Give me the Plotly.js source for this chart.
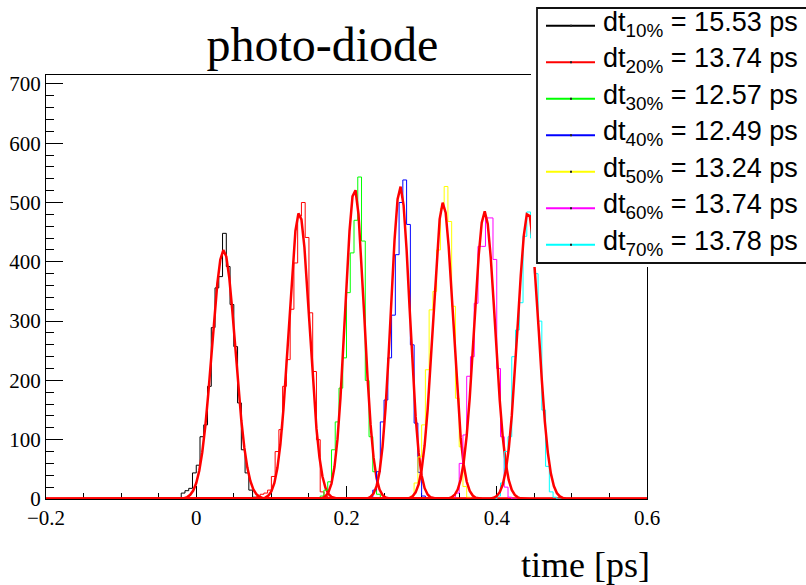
<!DOCTYPE html>
<html><head><meta charset="utf-8">
<script src="https://cdn.plot.ly/plotly-3.0.1.min.js"></script>
<style>html,body{margin:0;padding:0;background:#fff}#chart{width:806px;height:585px}</style>
</head><body><div id="chart"></div>
<script>
// ---- data ----
const binWidth = 0.005;
const thresholds = ['10%', '20%', '30%', '40%', '50%', '60%', '70%'];
const dtValues = [15.53, 13.74, 12.57, 12.49, 13.24, 13.74, 13.78];   // ps (fit sigma)
const seriesColors = ['#000000', '#ff0000', '#00ff00', '#0000ff', '#ffff00', '#ff00ff', '#00ffff'];
const firstBinEdge = [-0.02, 0.08, 0.165, 0.23, 0.285, 0.345, 0.40];
const h10 = [10, 14, 18, 44, 57, 105, 125, 190, 289, 356, 375, 448, 392, 328, 257, 162, 83, 44, 15, 3];
const h20 = [4, 8, 10, 15, 38, 80, 117, 190, 235, 320, 398, 477, 500, 441, 314, 215, 100, 12, 5];
const h30 = [5, 15, 29, 83, 130, 187, 238, 348, 415, 470, 543, 435, 200, 105, 46, 8];
const h40 = [3, 15, 46, 130, 167, 238, 310, 412, 500, 538, 463, 260, 128, 45, 5];
const h50 = [5, 27, 71, 125, 218, 319, 350, 420, 490, 527, 468, 325, 170, 88, 21, 3];
const h60 = [10, 60, 108, 207, 240, 330, 426, 426, 474, 474, 404, 220, 105, 20, 3];
const h70 = [5, 27, 80, 105, 240, 285, 331, 443, 484, 440, 380, 300, 150, 55, 12, 3];
const fitConst = [420, 483, 523, 527, 500, 485, 484];
const fitMean = [0.0364, 0.137, 0.2108, 0.2716, 0.3285, 0.3839, 0.4417];
const xRange = [-0.2, 0.6];
const yRange = [0, 715];

const hists = [h10, h20, h30, h40, h50, h60, h70];

// ---- build traces ----
const traces = [];
hists.forEach((vals, i) => {
  const x = [xRange[0]], y = [0];
  vals.forEach((v, k) => { x.push(firstBinEdge[i] + k * binWidth); y.push(v); });
  x.push(firstBinEdge[i] + vals.length * binWidth); y.push(0);
  x.push(xRange[1]); y.push(0);
  traces.push({type: 'scatter', mode: 'lines', x: x, y: y, line: {shape: 'hv', color: seriesColors[i], width: 1},
               hoverinfo: 'skip', showlegend: false, cliponaxis: false});
  const fx = [], fy = [];
  const s = dtValues[i] / 1000;
  for (let t = xRange[0]; t <= xRange[1] + 1e-9; t += 0.004) {
    fx.push(t);
    fy.push(fitConst[i] * Math.exp(-0.5 * Math.pow((t - fitMean[i]) / s, 2)));
  }
  traces.push({type: 'scatter', mode: 'lines', x: fx, y: fy, line: {color: '#ff0000', width: 2.5},
               hoverinfo: 'skip', showlegend: false, cliponaxis: false});
});

// ---- pixel helpers for the frame (46..647 x 75..499) ----
const FX0 = 46, FX1 = 647, FY0 = 499, FY1 = 75;
const px = v => (v - FX0) / (FX1 - FX0);
const py = v => (FY0 - v) / (FY0 - FY1);

const shapes = [
  {type: 'rect', xref: 'paper', yref: 'paper', x0: px(531), x1: px(830), y0: py(267), y1: py(-5),
   fillcolor: '#ffffff', line: {width: 0}, layer: 'above'},
  {type: 'rect', xref: 'paper', yref: 'paper', x0: px(537), x1: px(830), y0: py(263), y1: py(8),
   fillcolor: 'rgba(0,0,0,0)', line: {color: '#111', width: 1.8}, layer: 'above'}
];
const annotations = [];
thresholds.forEach((t, i) => {
  const yy = 25.7 + 36.5 * i;
  shapes.push({type: 'line', xref: 'paper', yref: 'paper', x0: px(546), x1: px(595), y0: py(yy), y1: py(yy),
               line: {color: seriesColors[i], width: 2}, layer: 'above'});
  shapes.push({type: 'rect', xref: 'paper', yref: 'paper', x0: px(570), x1: px(572), y0: py(yy + 1), y1: py(yy - 1),
               fillcolor: '#222', line: {width: 0}, layer: 'above'});
  annotations.push({xref: 'paper', yref: 'paper', x: px(601), y: py(yy - 2), xanchor: 'left', yanchor: 'middle',
                    showarrow: false, text: 'dt<sub>' + t + '</sub> = ' + dtValues[i].toFixed(2) + ' ps',
                    font: {family: 'Liberation Sans, Arial, sans-serif', size: 27, color: '#000'}});
});
annotations.push({xref: 'paper', yref: 'paper', x: px(652), y: py(565), xanchor: 'right', yanchor: 'middle',
                  showarrow: false, text: 'time [ps]',
                  font: {family: 'Liberation Serif, Times New Roman, serif', size: 36, color: '#000'}});

const tickFont = {family: 'Liberation Serif, Times New Roman, serif', size: 21, color: '#000'};
const layout = {
  width: 806, height: 585,
  margin: {l: FX0, r: 806 - FX1, t: FY1, b: 585 - FY0, pad: 0},
  paper_bgcolor: '#fff', plot_bgcolor: '#fff',
  title: {text: 'photo-diode', xref: 'container', yref: 'container', x: 0.4, y: 1 - 44 / 585,
          xanchor: 'center', yanchor: 'middle',
          font: {family: 'Liberation Serif, Times New Roman, serif', size: 48, color: '#000'}},
  showlegend: false,
  xaxis: {range: xRange, tick0: -0.2, dtick: 0.2, ticks: 'inside', ticklen: 13, tickwidth: 1, tickcolor: '#000',
          minor: {dtick: 0.05, tick0: -0.2, ticks: 'inside', ticklen: 6, tickwidth: 1, tickcolor: '#000', showgrid: false},
          showline: true, linecolor: '#000', linewidth: 1, mirror: true, showgrid: false, zeroline: false,
          tickfont: tickFont, layer: 'below traces', fixedrange: true},
  yaxis: {range: yRange, tick0: 0, dtick: 100, ticks: 'inside', ticklen: 17, tickwidth: 1, tickcolor: '#000',
          minor: {dtick: 20, ticks: 'inside', ticklen: 8, tickwidth: 1, tickcolor: '#000', showgrid: false},
          showline: true, linecolor: '#000', linewidth: 1, mirror: true, showgrid: false, zeroline: false,
          tickfont: tickFont, layer: 'below traces', fixedrange: true},
  shapes: shapes,
  annotations: annotations
};
Plotly.newPlot('chart', traces, layout, {staticPlot: true, displayModeBar: false});
</script>
</body></html>
